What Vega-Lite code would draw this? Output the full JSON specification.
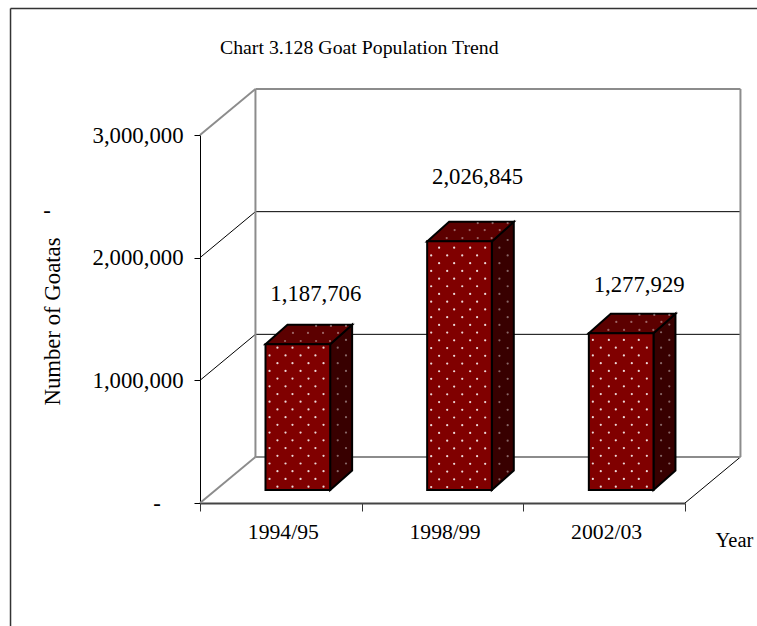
{
"$schema":"https://vega.github.io/schema/vega-lite/v6.json",
"width":485,"height":368,"autosize":{"type":"none"},
"padding":{"left":200,"top":135,"right":72,"bottom":123},
"background":"white",
"config":{"view":{"stroke":null},"axis":{"grid":false},"font":"Liberation Serif"},
"title":{"text":"Chart 3.128 Goat Population Trend","anchor":"start","frame":"group","dx":20,"offset":-50,"font":"Liberation Serif","fontSize":19.8,"fontWeight":"normal","color":"black"},
"datasets":{
"bars":[
{"year":"1994/95","value":1187706,"labelAt":1701500},
{"year":"1998/99","value":2026845,"labelAt":2655000},
{"year":"2002/03","value":1277929,"labelAt":1775000}],
"frameLines":[
{"x":-1.172,"x2":-1.172,"y":-1020000,"y2":4031000},
{"x":-1.172,"x2":3.45,"y":4031000,"y2":4031000}],
"thinLines":[
{"x":0.343,"x2":3.343,"y":1375000,"y2":1375000},
{"x":0.343,"x2":3.343,"y":2375000,"y2":2375000},
{"x":0,"x2":0.343,"y":1000000,"y2":1375000},
{"x":0,"x2":0.343,"y":2000000,"y2":2375000},
{"x":3,"x2":3.343,"y":0,"y2":375000}],
"wallLines":[
{"x":0.343,"x2":3.343,"y":3375000,"y2":3375000},
{"x":0.343,"x2":3.343,"y":375000,"y2":375000},
{"x":0.343,"x2":0.343,"y":375000,"y2":3375000},
{"x":3.343,"x2":3.343,"y":375000,"y2":3375000},
{"x":0,"x2":0.343,"y":3000000,"y2":3375000},
{"x":0,"x2":0.343,"y":0,"y2":375000}],
"sideFaces":[
{"bar":"a","x":0.805,"lo":1293700,"hi":106000},{"bar":"a","x":0.941,"lo":1452700,"hi":265000},
{"bar":"b","x":1.805,"lo":2132800,"hi":106000},{"bar":"b","x":1.941,"lo":2291800,"hi":265000},
{"bar":"c","x":2.805,"lo":1383900,"hi":106000},{"bar":"c","x":2.941,"lo":1542900,"hi":265000}],
"topFaces":[
{"bar":"a","x":0.405,"lo":1293700,"hi":1293700},{"bar":"a","x":0.541,"lo":1452700,"hi":1293700},{"bar":"a","x":0.805,"lo":1452700,"hi":1293700},{"bar":"a","x":0.941,"lo":1452700,"hi":1452700},
{"bar":"b","x":1.405,"lo":2132800,"hi":2132800},{"bar":"b","x":1.541,"lo":2291800,"hi":2132800},{"bar":"b","x":1.805,"lo":2291800,"hi":2132800},{"bar":"b","x":1.941,"lo":2291800,"hi":2291800},
{"bar":"c","x":2.405,"lo":1383900,"hi":1383900},{"bar":"c","x":2.541,"lo":1542900,"hi":1383900},{"bar":"c","x":2.805,"lo":1542900,"hi":1383900},{"bar":"c","x":2.941,"lo":1542900,"hi":1542900}],
"frontDots":[
{"xs":[0.479,0.572,0.671,0.764],"ys":[1266000,1140000,1014000,888000,763000,637000,511000,385000,259000,133000]},
{"xs":[0.430,0.529,0.622,0.714],"ys":[1203000,1077000,951000,826000,700000,574000,448000,322000,196000]},
{"xs":[1.479,1.572,1.671,1.764],"ys":[2081000,1955000,1829000,1704000,1578000,1452000,1326000,1200000,1074000,949000,823000,697000,571000,445000,319000,193000]},
{"xs":[1.430,1.529,1.622,1.714],"ys":[2018000,1892000,1767000,1641000,1515000,1389000,1263000,1137000,1012000,886000,760000,634000,508000,382000,256000,130000]},
{"xs":[2.479,2.572,2.671,2.764],"ys":[1266000,1140000,1014000,888000,763000,637000,511000,385000,259000,133000]},
{"xs":[2.430,2.529,2.622,2.714],"ys":[1329000,1203000,1077000,951000,826000,700000,574000,448000,322000,196000]}],
"shadeDots":[
{"xs":[0.852],"ys":[1266000,1140000,1014000,888000,763000,637000,511000,385000,259000]},
{"xs":[0.903],"ys":[1329000,1203000,1077000,951000,826000,700000,574000,448000,322000]},
{"xs":[1.852],"ys":[2081000,1955000,1829000,1704000,1578000,1452000,1326000,1200000,1074000,949000,823000,697000,571000,445000,319000,193000]},
{"xs":[1.903],"ys":[2144000,2018000,1892000,1767000,1641000,1515000,1389000,1263000,1137000,1012000,886000,760000,634000,508000,382000,256000]},
{"xs":[2.852],"ys":[1392000,1266000,1140000,1014000,888000,763000,637000,511000,385000,259000]},
{"xs":[2.903],"ys":[1455000,1329000,1203000,1077000,951000,826000,700000,574000,448000,322000]},
{"xs":[0.526,0.623,0.718,0.804],"ys":[1320600]},
{"xs":[0.575,0.668,0.761,0.854],"ys":[1386000]},
{"xs":[0.718,0.810,0.903],"ys":[1443000]},
{"xs":[1.526,1.623,1.718,1.804],"ys":[2160000]},
{"xs":[1.575,1.668,1.761,1.854],"ys":[2225000]},
{"xs":[1.718,1.810,1.903],"ys":[2282000]},
{"xs":[2.526,2.623,2.718,2.804],"ys":[1411000]},
{"xs":[2.575,2.668,2.761,2.854],"ys":[1476000]},
{"xs":[2.718,2.810,2.903],"ys":[1533000]}],
"notes":[{"x":-0.946,"y":2380000,"text":"-"}]
},
"layer":[
{"data":{"name":"frameLines"},"mark":{"type":"rule","stroke":"#333333","strokeWidth":1.5},
"encoding":{"x":{"field":"x","type":"quantitative","scale":{"domain":[0,3],"nice":false,"zero":false},"axis":null},"x2":{"field":"x2"},
"y":{"field":"y","type":"quantitative","scale":{"domain":[0,3000000],"nice":false,"zero":false},
"axis":{"values":[0,1000000,2000000,3000000],"labelExpr":"datum.value === 0 ? '-\u00a0\u00a0\u00a0\u00a0\u200b' : format(datum.value, ',')","labelFont":"Liberation Serif","labelFontSize":22.75,"labelColor":"black","labelPadding":11,"tickColor":"black","tickSize":6,"domainColor":"black","title":"Number of Goatas","titleFont":"Liberation Serif","titleFontSize":22.75,"titleFontWeight":"normal","titleColor":"black","titleX":-148,"titleY":186,"titleAngle":-90,"titleAlign":"center","titleBaseline":"middle"}},"y2":{"field":"y2"}}},
{"data":{"name":"thinLines"},"mark":{"type":"rule","stroke":"black","strokeWidth":1},
"encoding":{"x":{"field":"x","type":"quantitative","scale":{"domain":[0,3],"nice":false,"zero":false},"axis":null},"x2":{"field":"x2"},
"y":{"field":"y","type":"quantitative","scale":{"domain":[0,3000000],"nice":false,"zero":false},"axis":null},"y2":{"field":"y2"}}},
{"data":{"name":"wallLines"},"mark":{"type":"rule","stroke":"#8c8c8c","strokeWidth":2},
"encoding":{"x":{"field":"x","type":"quantitative","scale":{"domain":[0,3],"nice":false,"zero":false},"axis":null},"x2":{"field":"x2"},
"y":{"field":"y","type":"quantitative","scale":{"domain":[0,3000000],"nice":false,"zero":false},"axis":null},"y2":{"field":"y2"}}},
{"data":{"name":"sideFaces"},"mark":{"type":"area","fill":"#380000","stroke":"black","strokeWidth":2},
"encoding":{"x":{"field":"x","type":"quantitative","scale":{"domain":[0,3],"nice":false,"zero":false},"axis":null},
"y":{"field":"lo","type":"quantitative","scale":{"domain":[0,3000000],"nice":false,"zero":false},"axis":null},"y2":{"field":"hi"},"detail":{"field":"bar"}}},
{"data":{"name":"topFaces"},"mark":{"type":"area","fill":"#5c0000","stroke":"black","strokeWidth":2},
"encoding":{"x":{"field":"x","type":"quantitative","scale":{"domain":[0,3],"nice":false,"zero":false},"axis":null},
"y":{"field":"lo","type":"quantitative","scale":{"domain":[0,3000000],"nice":false,"zero":false},"axis":null},"y2":{"field":"hi"},"detail":{"field":"bar"}}},
{"data":{"name":"bars"},"mark":{"type":"bar","fill":"#800000","stroke":"black","strokeWidth":2},
"encoding":{"x":{"field":"year","type":"nominal","sort":null,"scale":{"type":"band","paddingInner":0.6,"paddingOuter":0.3,"range":[17,502]},"axis":null},
"y":{"field":"value","type":"quantitative","scale":{"domain":[-106000,2894000],"nice":false,"zero":false},"axis":null}}},
{"data":{"name":"frontDots"},"transform":[{"flatten":["xs"]},{"flatten":["ys"]}],"mark":{"type":"circle","size":5,"fill":"#ffffff","opacity":0.85},
"encoding":{"x":{"field":"xs","type":"quantitative","scale":{"domain":[0,3],"nice":false,"zero":false},"axis":null},
"y":{"field":"ys","type":"quantitative","scale":{"domain":[0,3000000],"nice":false,"zero":false},"axis":null}}},
{"data":{"name":"shadeDots"},"transform":[{"flatten":["xs"]},{"flatten":["ys"]}],"mark":{"type":"circle","size":5,"fill":"#ffffff","opacity":0.4},
"encoding":{"x":{"field":"xs","type":"quantitative","scale":{"domain":[0,3],"nice":false,"zero":false},"axis":null},
"y":{"field":"ys","type":"quantitative","scale":{"domain":[0,3000000],"nice":false,"zero":false},"axis":null}}},
{"data":{"name":"notes"},"mark":{"type":"text","font":"Liberation Serif","fontSize":22.75,"color":"black"},
"encoding":{"x":{"field":"x","type":"quantitative","scale":{"domain":[0,3],"nice":false,"zero":false},"axis":null},
"y":{"field":"y","type":"quantitative","scale":{"domain":[0,3000000],"nice":false,"zero":false},"axis":null},"text":{"field":"text"}}},
{"data":{"name":"bars"},"mark":{"type":"text","font":"Liberation Serif","fontSize":22.75,"color":"black","dx":35},
"encoding":{"x":{"field":"year","type":"nominal","sort":null,"scale":{"type":"band","padding":0},
"axis":{"tickBand":"extent","labelAngle":0,"labelFont":"Liberation Serif","labelFontSize":21.7,"labelColor":"black","labelPadding":10,"labelOffset":2,"tickColor":"#333333","tickSize":8,"domainColor":"#444444","domainWidth":2,"title":"Year","titleFont":"Liberation Serif","titleFontSize":20.5,"titleFontWeight":"normal","titleColor":"black","titleX":534,"titleY":37,"titleAnchor":null,"titleAlign":"center","titleBaseline":"middle"}},
"y":{"field":"labelAt","type":"quantitative","scale":{"domain":[0,3000000],"nice":false,"zero":false},"axis":null},
"text":{"field":"value","type":"quantitative","format":","}}}
],
"resolve":{"scale":{"x":"independent","y":"independent"},"axis":{"x":"independent","y":"independent"}}
}
